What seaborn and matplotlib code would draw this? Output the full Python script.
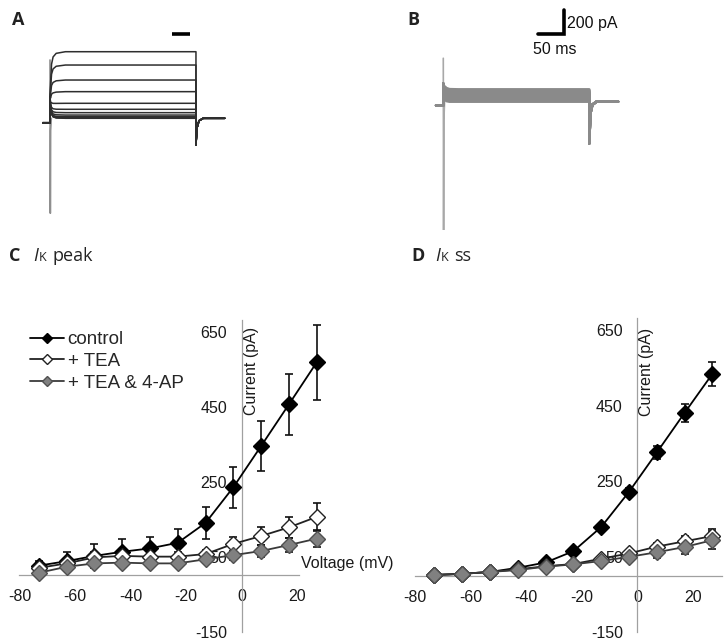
import numpy as np
import pandas as pd
import matplotlib
matplotlib.use("Agg")
import matplotlib.pyplot as plt
import seaborn as sns

# ---------------- data ----------------
voltage = [-73, -63, -53, -43, -33, -23, -13, -3, 7, 17, 27]
conditions = ["control", "+ TEA", "+ TEA & 4-AP"]

peak_control = [26, 38, 52, 63, 72, 87, 140, 235, 345, 456, 568]
peak_control_err = [12, 25, 32, 35, 31, 36, 43, 54, 66, 82, 101]
peak_tea = [20, 32, 48, 52, 50, 50, 57, 84, 105, 128, 156]
peak_tea_err = [8, 12, 14, 12, 12, 12, 12, 19, 23, 28, 36]
peak_4ap = [7, 23, 32, 34, 32, 32, 43, 54, 65, 81, 98]
peak_4ap_err = [6, 8, 10, 8, 8, 8, 8, 12, 15, 18, 21]

ss_control = [2, 5, 10, 21, 35, 65, 129, 222, 326, 431, 534]
ss_control_err = [2, 2, 3, 3, 4, 5, 6, 10, 17, 24, 31]
ss_tea = [2, 5, 10, 17, 25, 31, 45, 59, 77, 91, 105]
ss_tea_err = [2, 2, 3, 3, 4, 4, 5, 7, 10, 15, 19]
ss_4ap = [2, 5, 10, 15, 24, 30, 39, 50, 62, 76, 94]
ss_4ap_err = [2, 2, 3, 3, 4, 4, 5, 8, 15, 18, 24]

x_ticks = [-80, -60, -40, -20, 0, 20]
y_ticks = [-150, 50, 250, 450, 650]

# current traces (ms, pA)
levels_A = [555, 444, 319, 222, 125, 75, 47, 27, 13, 5, 2, 0]
levels_B = [103, 97, 91, 85, 78, 70, 62, 54, 45, 36, 27, 18, 9, 0]
t_pre = [-14, 0]
t_step = [0, 1, 3, 6, 12, 30, 284]
frac_A = [0, 0.35, 0.75, 0.9, 0.97, 1.0, 1.0]
cap_A = [180, 90, 35, 12, 3, 0, 0]
frac_B = [0, 0.6, 1.04, 1.06, 1.02, 1.0, 1.0]
cap_B = [150, 60, 20, 5, 0, 0, 0]
t_tail = [284, 286, 290, 298, 340]
tail_A = [-222, -80, -20, 0, 0]
tail_B = [-347, -100, -25, 0, 0]
hold_A = -37
hold_B = -30
spike_t = [0, 0.6, 1.2, 2.5]
spike_A = [486, -791, -100, 0]
spike_B = [362, -1069, -150, 0]

# ---------------- figure ----------------
sns.set_style("white")
plt.rcParams["font.family"] = ["Liberation Sans", "DejaVu Sans"]
plt.rcParams["axes.unicode_minus"] = False

W, H = 728, 643
fig = plt.figure(figsize=(W / 100, H / 100), dpi=100)


def px_axes(x0, y0, x1, y1):
    return fig.add_axes([x0 / W, 1 - y1 / H, (x1 - x0) / W, (y1 - y0) / H])


def build_traces(levels, frac, cap, tail, hold):
    rows = []
    for i, L in enumerate(levels):
        ts = t_pre + t_step + t_tail
        ys = [hold, hold] + [L * f + c for f, c in zip(frac, cap)] + tail
        for k, (t, y) in enumerate(zip(ts, ys)):
            rows.append({"sweep": i, "order": k, "t": t, "I": y})
    return pd.DataFrame(rows)


# Panel A
axA = px_axes(0, 0, 260, 230)
axA.set_xlim(-97.3, 408.6)
axA.set_ylim(-931, 986)
axA.axis("off")
sns.lineplot(x=spike_t, y=spike_A, ax=axA, color="#8f8f8f", lw=1.2, sort=False)
dfA = build_traces(levels_A, frac_A, cap_A, tail_A, hold_A)
sns.lineplot(data=dfA, x="t", y="I", units="sweep", estimator=None, sort=False,
             ax=axA, color="#2e2e2e", lw=1.1)
axA.plot([236.8, 272.4], [702.5, 702.5], color="black", lw=2.6, solid_capstyle="butt")

# Panel B
axB = px_axes(400, 0, 660, 230)
axB.set_xlim(-84.2, 421.6)
axB.set_ylim(-1069, 847.5)
axB.axis("off")
sns.lineplot(x=spike_t, y=spike_B, ax=axB, color="#a8a8a8", lw=1.2, sort=False)
dfB = build_traces(levels_B, frac_B, cap_B, tail_B, hold_B)
sns.lineplot(data=dfB, x="t", y="I", units="sweep", estimator=None, sort=False,
             ax=axB, color="#8a8a8a", lw=1.8)
axB.plot([184.8, 234.8, 234.8], [561.7, 561.7, 761.7], color="black", lw=2.6,
         solid_joinstyle="miter")
axB.text(240, 653, "200 pA", fontsize=11.5, ha="left", va="center", color="#111")
axB.text(174, 431, "50 ms", fontsize=11.5, ha="left", va="center", color="#111")

# panel letters
hfam = ["Open Sans", "DejaVu Sans"]
for x, y, s in [(12, 20, "A"), (407, 20, "B"), (9, 256, "C"), (411, 256, "D")]:
    fig.text(x / W, 1 - y / H, s, fontsize=13, fontweight="bold",
             family=hfam, ha="left", va="center", color="#222")
for x, txt in [(33, "peak"), (435, "ss")]:
    fig.text(x / W, 1 - 256 / H, "I", fontsize=13, style="italic",
             family=hfam, ha="left", va="center", color="#222")
    fig.text((x + 6) / W, 1 - 257.5 / H, "K", fontsize=9,
             family=hfam, ha="left", va="center", color="#222")
    fig.text((x + 19) / W, 1 - 256 / H, txt, fontsize=13,
             family=hfam, ha="left", va="center", color="#222")

styles = [
    dict(color="black", mfc="black", mec="black"),
    dict(color="#222222", mfc="white", mec="#222222"),
    dict(color="#3a3a3a", mfc="#808080", mec="#505050"),
]


def iv_panel(ax, series, errs, xlim, ylim, xbound_hi, ybound_hi):
    ax.set_xlim(*xlim)
    ax.set_ylim(*ylim)
    for cond, vals, err, st in zip(conditions, series, errs, styles):
        ax.errorbar(voltage, vals, yerr=err, fmt="none", ecolor="#111111",
                    elinewidth=1.2, capsize=3.2, capthick=1.2, zorder=2,
                    label="_nolegend_")
        sns.lineplot(x=voltage, y=vals, ax=ax, color=st["color"], lw=1.3,
                     marker="D", markersize=8.5, markerfacecolor=st["mfc"],
                     markeredgecolor=st["mec"], markeredgewidth=1.0,
                     label=cond, zorder=3)
    ax.set_xlabel("")
    ax.set_ylabel("")
    ax.spines[["top", "right"]].set_visible(False)
    for side in ["left", "bottom"]:
        ax.spines[side].set_position(("data", 0))
        ax.spines[side].set_color("#a0a0a0")
        ax.spines[side].set_linewidth(0.9)
    ax.spines["left"].set_bounds(-150, ybound_hi)
    ax.spines["bottom"].set_bounds(-80, xbound_hi)
    ax.set_xticks(x_ticks)
    ax.set_yticks(y_ticks)
    ax.tick_params(axis="x", direction="inout", length=4, width=0.8, pad=8,
                   labelsize=11.5, colors="#a0a0a0", labelcolor="#1a1a1a")
    ax.tick_params(axis="y", direction="out", length=2.5, width=0.8, pad=8,
                   labelsize=11.5, colors="#a0a0a0", labelcolor="#1a1a1a")
    ax.patch.set_alpha(0)


axC = px_axes(0, 300, 400, 643)
iv_panel(axC, [peak_control, peak_tea, peak_4ap],
         [peak_control_err, peak_tea_err, peak_4ap_err],
         (-87.0, 57.0), (-180.3, 734.4), 20.7, 681)
axC.text(3.6, 546, "Current (pA)", rotation=90, ha="center", va="center",
         fontsize=11.5, color="#1a1a1a")
axC.text(21.3, 33, "Voltage (mV)", ha="left", va="center", fontsize=11.5,
         color="#1a1a1a")
handles, labels = axC.get_legend_handles_labels()
axC.legend(handles, labels, loc="upper left", bbox_to_anchor=(30 / W, 1 - 331 / H),
           bbox_transform=fig.transFigure, frameon=False, fontsize=13.5,
           handlelength=1.8, handletextpad=0.2, labelspacing=0.25, borderpad=0,
           borderaxespad=0, markerscale=0.6)

axD = px_axes(400, 300, 728, 643)
iv_panel(axD, [ss_control, ss_tea, ss_4ap],
         [ss_control_err, ss_tea_err, ss_4ap_err],
         (-85.4, 32.6), (-178.0, 729.4), 30.4, 682)
axD.text(3.4, 540, "Current (pA)", rotation=90, ha="center", va="center",
         fontsize=11.5, color="#1a1a1a")
if axD.get_legend() is not None:
    axD.get_legend().remove()

fig.savefig("out.png", dpi=100)
